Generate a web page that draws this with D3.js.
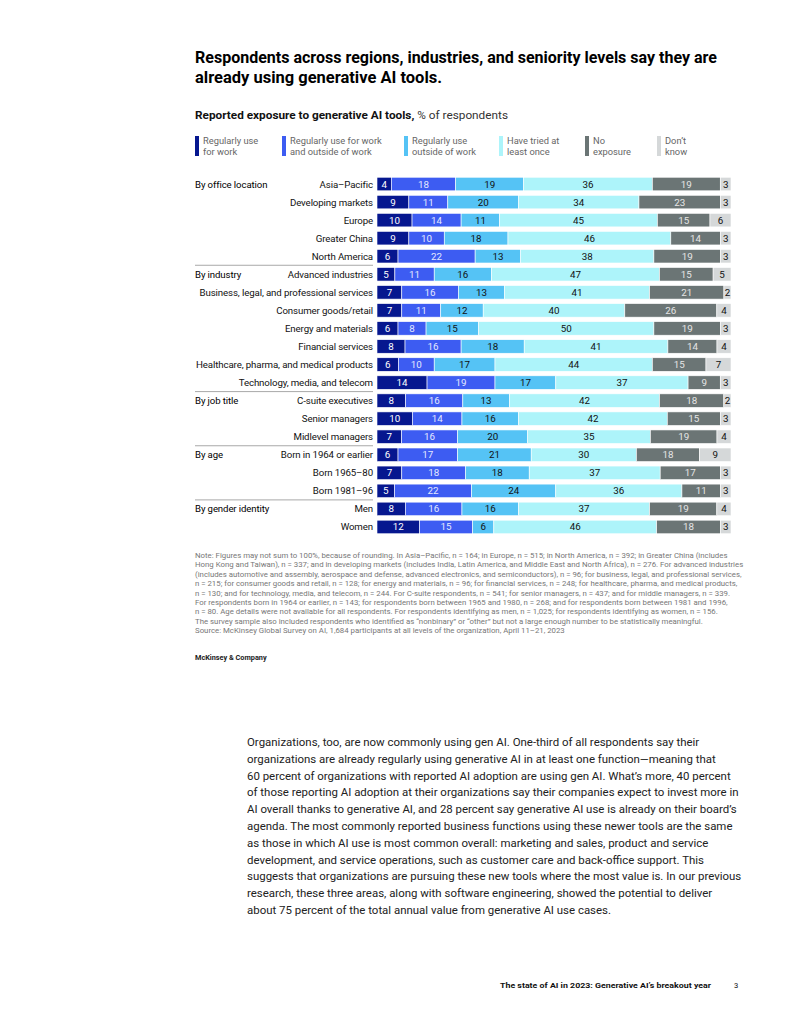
<!DOCTYPE html>
<html><head><meta charset="utf-8">
<script src="https://cdn.jsdelivr.net/npm/d3@7"></script>
<style>
html,body{margin:0;padding:0;background:#fff;}
svg{display:block;font-family:Roboto,"Liberation Sans",Arial,sans-serif;}
</style></head><body>
<svg id="c" width="791" height="1024"></svg>
<script>
// ---------- data ----------
const titleLines = ["Respondents across regions, industries, and seniority levels say they are", "already using generative AI tools."];
const subtitleBold = "Reported exposure to generative AI tools,";
const subtitleRest = " % of respondents";
const seriesKeys = ["work", "both", "outside", "tried", "none", "dontKnow"];
const seriesLabels = [["Regularly use", "for work"], ["Regularly use for work", "and outside of work"], ["Regularly use", "outside of work"], ["Have tried at", "least once"], ["No", "exposure"], ["Don’t", "know"]];
const groups = ["By office location", "By industry", "By job title", "By age", "By gender identity"];
const groupSizes = [5, 7, 3, 3, 2];
const categories = ["Asia–Pacific", "Developing markets", "Europe", "Greater China", "North America",
  "Advanced industries", "Business, legal, and professional services", "Consumer goods/retail", "Energy and materials", "Financial services", "Healthcare, pharma, and medical products", "Technology, media, and telecom",
  "C-suite executives", "Senior managers", "Midlevel managers",
  "Born in 1964 or earlier", "Born 1965–80", "Born 1981–96",
  "Men", "Women"];
const regWork    = [4, 9, 10, 9, 6, 5, 7, 7, 6, 8, 6, 14, 8, 10, 7, 6, 7, 5, 8, 12];
const regBoth    = [18, 11, 14, 10, 22, 11, 16, 11, 8, 16, 10, 19, 16, 14, 16, 17, 18, 22, 16, 15];
const regOutside = [19, 20, 11, 18, 13, 16, 13, 12, 15, 18, 17, 17, 13, 16, 20, 21, 18, 24, 16, 6];
const triedOnce  = [36, 34, 45, 46, 38, 47, 41, 40, 50, 41, 44, 37, 42, 42, 35, 30, 37, 36, 37, 46];
const noExposure = [19, 23, 15, 14, 19, 15, 21, 26, 19, 14, 15, 9, 18, 15, 19, 18, 17, 11, 19, 18];
const dontKnow   = [3, 3, 6, 3, 3, 5, 2, 4, 3, 4, 7, 3, 2, 3, 4, 9, 3, 3, 4, 3];
const noteLines = [
  "Note: Figures may not sum to 100%, because of rounding. In Asia–Pacific, n = 164; in Europe, n = 515; in North America, n = 392; in Greater China (includes",
  "Hong Kong and Taiwan), n = 337; and in developing markets (includes India, Latin America, and Middle East and North Africa), n = 276. For advanced industries",
  "(includes automotive and assembly, aerospace and defense, advanced electronics, and semiconductors), n = 96; for business, legal, and professional services,",
  "n = 215; for consumer goods and retail, n = 128; for energy and materials, n = 96; for financial services, n = 248; for healthcare, pharma, and medical products,",
  "n = 130; and for technology, media, and telecom, n = 244. For C-suite respondents, n = 541; for senior managers, n = 437; and for middle managers, n = 339.",
  "For respondents born in 1964 or earlier, n = 143; for respondents born between 1965 and 1980, n = 268; and for respondents born between 1981 and 1996,",
  "n = 80. Age details were not available for all respondents. For respondents identifying as men, n = 1,025; for respondents identifying as women, n = 156.",
  "The survey sample also included respondents who identified as “nonbinary” or “other” but not a large enough number to be statistically meaningful.",
  "Source: McKinsey Global Survey on AI, 1,684 participants at all levels of the organization, April 11–21, 2023"
];
const bodyLines = [
  "Organizations, too, are now commonly using gen AI. One-third of all respondents say their",
  "organizations are already regularly using generative AI in at least one function—meaning that",
  "60 percent of organizations with reported AI adoption are using gen AI. What’s more, 40 percent",
  "of those reporting AI adoption at their organizations say their companies expect to invest more in",
  "AI overall thanks to generative AI, and 28 percent say generative AI use is already on their board’s",
  "agenda. The most commonly reported business functions using these newer tools are the same",
  "as those in which AI use is most common overall: marketing and sales, product and service",
  "development, and service operations, such as customer care and back-office support. This",
  "suggests that organizations are pursuing these new tools where the most value is. In our previous",
  "research, these three areas, along with software engineering, showed the potential to deliver",
  "about 75 percent of the total annual value from generative AI use cases."
];
const brand = "McKinsey & Company";
const footerText = "The state of AI in 2023: Generative AI’s breakout year";
const pageNumber = "3";

// ---------- styles ----------
const colors = ["#06178f", "#3d5cf2", "#55c3f5", "#adf4fa", "#6b7575", "#d5d8d9"];
const valueColors = ["#ffffff", "#e4e8ff", "#111111", "#111111", "#e6e6e6", "#111111"];
const legendX = [195, 282, 404, 499, 585, 657];

const svg = d3.select("#c");

function fitWidth(sel, target) {
  const w = sel.node().getComputedTextLength();
  if (w > 0) sel.attr("textLength", target).attr("lengthAdjust", "spacingAndGlyphs");
}
// returns a font size so that the reference line has the target width
function fitSize(text, baseSize, target, extra) {
  const t = svg.append("text").attr("font-size", baseSize).text(text);
  if (extra) extra(t);
  const w = t.node().getComputedTextLength();
  t.remove();
  return w > 0 ? baseSize * target / w : baseSize;
}

// Title
titleLines.forEach((t, i) => {
  const el = svg.append("text").attr("x", 195).attr("y", 63 + i * 20)
    .attr("font-size", 16).attr("font-weight", 700).attr("fill", "#000").text(t);
  if (i === 0) fitWidth(el, 522);
  else fitWidth(el, 247);
});

// Subtitle
const sub = svg.append("text").attr("x", 195).attr("y", 119).attr("font-size", 11.5).attr("fill", "#111");
sub.append("tspan").attr("font-weight", 700).text(subtitleBold);
sub.append("tspan").attr("font-weight", 400).attr("fill", "#333").text(subtitleRest);
fitWidth(sub, 313);

// Legend
seriesKeys.forEach((k, i) => {
  const g = svg.append("g").attr("transform", `translate(${legendX[i]},0)`);
  g.append("rect").attr("x", 0).attr("y", 136).attr("width", 4).attr("height", 20).attr("fill", colors[i]);
  seriesLabels[i].forEach((l, j) => {
    g.append("text").attr("x", 8).attr("y", 143.5 + j * 11.5).attr("font-size", 9.3)
      .attr("fill", "#666").text(l);
  });
});

// Rows
const rows = categories.map((c, i) => ({
  cat: c, work: regWork[i], both: regBoth[i], outside: regOutside[i],
  tried: triedOnce[i], none: noExposure[i], dontKnow: dontKnow[i]
}));
const stacked = d3.stack().keys(seriesKeys).offset(d3.stackOffsetExpand)(rows);

const y = d3.scaleBand().domain(categories).range([175, 536]).paddingInner(0.25).paddingOuter(0.125);
const x = d3.scaleLinear().domain([0, 1]).range([377, 731]);

stacked.forEach((layer, si) => {
  const g = svg.append("g");
  g.selectAll("rect").data(layer).enter().append("rect")
    .attr("x", d => x(d[0])).attr("y", d => y(d.data.cat))
    .attr("width", d => x(d[1]) - x(d[0])).attr("height", y.bandwidth())
    .attr("fill", colors[si]).attr("stroke", "#fff").attr("stroke-width", 0.6);
  g.selectAll("text").data(layer).enter().append("text")
    .attr("x", d => (x(d[0]) + x(d[1])) / 2)
    .attr("y", d => y(d.data.cat) + y.bandwidth() / 2 + 3.5)
    .attr("text-anchor", "middle").attr("font-size", 9.8)
    .attr("fill", valueColors[si])
    .text(d => d.data[seriesKeys[si]]);
});

// Category labels
svg.append("g").selectAll("text").data(categories).enter().append("text")
  .attr("x", 373).attr("y", d => y(d) + y.bandwidth() / 2 + 3.5)
  .attr("text-anchor", "end").attr("font-size", 9.7).attr("fill", "#111")
  .attr("letter-spacing", -0.12)
  .text(d => d);

// Group labels and separators
let idx = 0;
groups.forEach((gname, gi) => {
  const first = categories[idx];
  svg.append("text").attr("x", 195).attr("y", y(first) + y.bandwidth() / 2 + 3.5)
    .attr("font-size", 9.6).attr("fill", "#000").attr("letter-spacing", -0.1).text(gname);
  idx += groupSizes[gi];
  if (gi < groups.length - 1) {
    const last = categories[idx - 1];
    const sy = y(last) + y.bandwidth() + (y.step() - y.bandwidth()) / 2;
    svg.append("line").attr("x1", 195).attr("x2", 373).attr("y1", sy).attr("y2", sy)
      .attr("stroke", "#a8a8a8").attr("stroke-width", 1);
  }
});

// Notes
const noteSize = fitSize(noteLines[0], 6.25, 533);
noteLines.forEach((t, i) => {
  svg.append("text").attr("x", 195).attr("y", 558 + i * 9.4)
    .attr("font-size", noteSize).attr("fill", "#777").text(t);
});

// Brand
svg.append("text").attr("x", 195).attr("y", 660).attr("font-size", 7.3).attr("font-weight", 700)
  .attr("fill", "#222").text(brand);

// Body
const bodySize = fitSize(bodyLines[4], 11.3, 490);
bodyLines.forEach((t, i) => {
  svg.append("text").attr("x", 247).attr("y", 746 + i * 16.8)
    .attr("font-size", bodySize).attr("fill", "#222").text(t);
});

// Footer
const ft = svg.append("text").attr("x", 500).attr("y", 988).attr("font-size", 7.6).attr("font-weight", 700)
  .attr("fill", "#111").text(footerText);
fitWidth(ft, 211);
svg.append("text").attr("x", 734).attr("y", 988).attr("font-size", 7.6).attr("fill", "#111").text(pageNumber);
</script>
</body></html>
